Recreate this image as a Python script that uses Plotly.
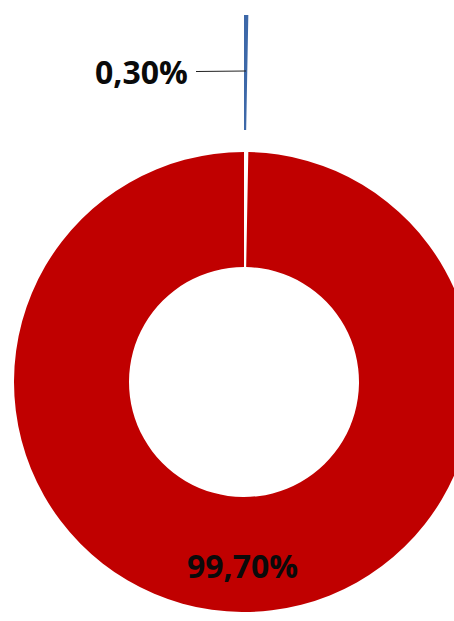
import plotly.graph_objects as go

# ---- data ----
labels = ["Outros", "Principal"]
values = [0.3, 99.7]
colors = ["#3D68A8", "#C00000"]

# ---- layout constants ----
W, H = 500, 621
cx, cy, r = 244, 382, 230      # pie centre / radius in px
pull_px = 137                  # how far the small slice is pulled out

def dom(cx, cy, r):
    return dict(x=[(cx - r) / W, (cx + r) / W],
                y=[1 - (cy + r) / H, 1 - (cy - r) / H])

font = dict(family="Open Sans", size=32, color="#0a0a0a", weight="bold")

fig = go.Figure()

# ring (the big slice), small slice left empty -> gap
fig.add_trace(go.Pie(
    labels=labels, values=values,
    marker=dict(colors=["rgba(0,0,0,0)", colors[1]], line=dict(width=0)),
    hole=0.5, sort=False, direction="clockwise", rotation=0,
    textinfo="none",
    domain=dom(cx, cy, r),
    hoverinfo="label+percent", showlegend=False,
))

# pulled-out small slice
fig.add_trace(go.Pie(
    labels=labels, values=values,
    marker=dict(colors=[colors[0], "rgba(0,0,0,0)"], line=dict(width=0)),
    hole=0.5, sort=False, direction="clockwise", rotation=0,
    textinfo="none",
    domain=dom(cx, cy - pull_px, r),
    hoverinfo="skip", showlegend=False,
))

total = sum(values)
pct = [f"{v / total * 100:.2f}%".replace(".", ",") for v in values]

fig.add_annotation(
    x=246 / W, y=1 - 71 / H, xref="paper", yref="paper",
    text=pct[0], showarrow=True, arrowhead=0, arrowwidth=1.2,
    arrowcolor="#222222", ax=-105, ay=1, borderpad=4, startstandoff=4,
    font=font,
)
fig.add_annotation(
    x=242 / W, y=1 - 565 / H, xref="paper", yref="paper",
    xanchor="center", yanchor="middle",
    text=pct[1], showarrow=False, font=font,
)

fig.update_layout(
    width=W, height=H,
    margin=dict(l=0, r=0, t=0, b=0),
    paper_bgcolor="white", plot_bgcolor="white",
)

fig.write_html("out.html", config={"displayModeBar": False},
               post_script="document.body.style.margin='0';document.body.style.overflow='hidden';")
